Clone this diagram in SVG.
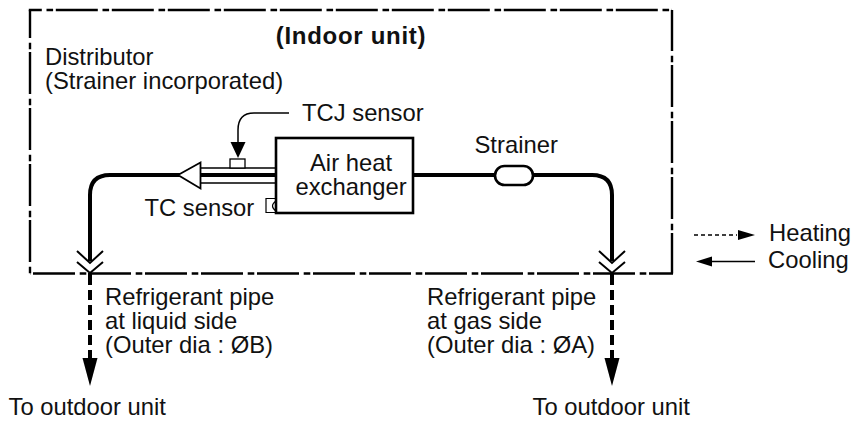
<svg xmlns="http://www.w3.org/2000/svg" width="854" height="422" viewBox="0 0 854 422">
<style>
text{font-family:"Liberation Sans",Arial,sans-serif;font-size:23.8px;fill:#111}
.b{font-weight:bold;font-size:24px;letter-spacing:.7px}
.frame{fill:none;stroke:#000;stroke-width:2.4;stroke-dasharray:42 4.7 6.6 2.7}
.pipe{fill:none;stroke:#000;stroke-width:4}
.thin{fill:none;stroke:#000;stroke-width:1.5}
.chev{fill:none;stroke:#000;stroke-width:2}
.dash{fill:none;stroke:#000;stroke-width:4;stroke-dasharray:10 5}
.node{fill:#fff;stroke:#000;stroke-width:2.6}
</style>
<g id="unit-frame">
<path class="frame" d="M30 10V273.500" stroke-dashoffset="14"/>
<path class="frame" d="M28.800 10H672" stroke-dashoffset="29"/>
<path class="frame" d="M672 10V273.500" stroke-dashoffset="1"/>
<path class="frame" d="M30 273.500H673" stroke-dashoffset="53"/>
</g>
<g id="connectors">
<path class="pipe" d="M200 175H110Q90 175 90 195V261"/>
<path class="pipe" d="M413 175H592Q612 175 612 195V261"/>
<path class="chev" d="M77 251L90 263L103 251M77 262L90 273L103 262"/>
<path class="chev" d="M599 251L612 263L625 251M599 262L612 273L625 262"/>
<path class="pipe" d="M90 273V285"/>
<path class="pipe" d="M612 273V285"/>
<path class="dash" d="M90 290V358"/>
<path class="dash" d="M612 290V358"/>
<path d="M82.500 358H97.500L90 386Z"/>
<path d="M604.500 358H619.500L612 386Z"/>
<path class="thin" d="M289 113H254Q238 113 238 130V144"/>
<path d="M230.500 142H245.500L238 158Z"/>
<path class="thin" d="M694 235H737" stroke-dasharray="4 3"/>
<path d="M738 230V240L755 235Z"/>
<path class="thin" d="M755 261.500H711"/>
<path d="M712 256.500V266.500L696 261.500Z"/>
</g>
<g id="distributor">
<path class="thin" d="M200 168H276M200 183H276"/>
<path class="pipe" d="M200 175H276"/>
<path d="M178 175L200.500 162.500V188.500Z" fill="#fff" stroke="#000" stroke-width="1.800"/>
</g>
<g id="tcj-sensor"><rect x="230" y="159" width="15" height="9" fill="#fff" stroke="#000" stroke-width="1.300"/><text x="302" y="121">TCJ sensor</text></g>
<g id="tc-sensor">
<text x="144.500" y="216">TC sensor</text>
<path d="M276 198.500H266V212.500H276" fill="#fff" stroke="#000" stroke-width="1.200"/>
<path d="M276 201Q269 206 276 211" fill="none" stroke="#000" stroke-width="1.200"/>
</g>
<g id="air-heat-exchanger"><rect class="node" x="276" y="138" width="137" height="75"/><text x="351" y="170.500" text-anchor="middle">Air heat</text><text x="351" y="195" text-anchor="middle">exchanger</text></g>
<g id="strainer"><rect class="node" x="495" y="166" width="38" height="19" rx="9.500" stroke-width="1.800"/><text x="474.500" y="153">Strainer</text></g>
<g id="labels">
<text class="b" x="351" y="44" text-anchor="middle">(Indoor unit)</text>
<text x="45" y="65">Distributor</text>
<text x="45" y="88.500">(Strainer incorporated)</text>
<text x="105" y="305">Refrigerant pipe</text>
<text x="105" y="329">at liquid side</text>
<text x="105" y="353">(Outer dia : ØB)</text>
<text x="427" y="305">Refrigerant pipe</text>
<text x="427" y="329">at gas side</text>
<text x="427" y="353">(Outer dia : ØA)</text>
<text x="8.500" y="415">To outdoor unit</text>
<text x="532.500" y="415">To outdoor unit</text>
<text x="769" y="241">Heating</text>
<text x="768" y="267.500">Cooling</text>
</g>
</svg>
